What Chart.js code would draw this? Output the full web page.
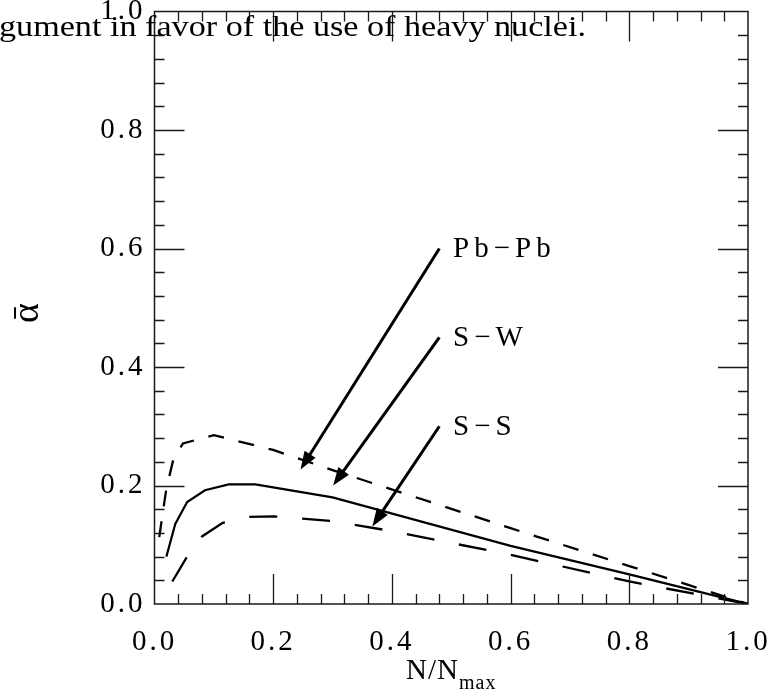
<!DOCTYPE html>
<html><head><meta charset="utf-8">
<script src="https://cdn.jsdelivr.net/npm/chart.js@4/dist/chart.umd.min.js"></script>
<style>html,body{margin:0;padding:0;background:#fff;overflow:hidden}</style>
</head><body>
<canvas id="c" width="770" height="694"></canvas>
<script>
// ---- data ----
const xTicks = [0, 0.2, 0.4, 0.6, 0.8, 1.0];
const yTicks = [0, 0.2, 0.4, 0.6, 0.8, 1.0];

const pbX = [0.008, 0.020, 0.032, 0.048, 0.10, 0.20, 0.30, 0.60, 0.80, 1.00];
const pbY = [0.113, 0.195, 0.245, 0.271, 0.285, 0.260, 0.226, 0.128, 0.064, 0.000];

const swX = [0.020, 0.035, 0.055, 0.085, 0.125, 0.170, 0.300, 0.600, 0.800, 1.000];
const swY = [0.080, 0.135, 0.172, 0.192, 0.202, 0.202, 0.180, 0.098, 0.050, 0.000];

const ssX = [0.030, 0.055, 0.080, 0.115, 0.160, 0.200, 0.300, 0.400, 0.600, 0.800, 1.000];
const ssY = [0.038, 0.080, 0.114, 0.137, 0.147, 0.148, 0.140, 0.123, 0.083, 0.038, 0.000];

const seriesNames = ['Pb\u2212Pb', 'S\u2212W', 'S\u2212S'];
const arrowFromX = [0.480, 0.480, 0.480];
const arrowFromY = [0.600, 0.450, 0.300];
const arrowToX   = [0.246, 0.301, 0.367];
const arrowToY   = [0.227, 0.200, 0.131];
const labelX = 0.503;

const headerText = 'gument in favor of the use of heavy nuclei.';
const xTitleMain = 'N/N';
const xTitleSub = 'max';
const yTitle = '\u1FB1';

// ---- chart ----
const FONT = "'Liberation Serif', 'DejaVu Serif', serif";
const pts = (xs, ys) => xs.map((x, i) => ({x: x, y: ys[i]}));

const decor = {
  id: 'decor',
  beforeDraw(chart) {
    chart.ctx.letterSpacing = '3px';
  },
  afterDraw(chart) {
    const ctx = chart.ctx, a = chart.chartArea;
    const xs = chart.scales.x, ys = chart.scales.y;
    ctx.save();
    ctx.letterSpacing = '0px';
    // frame
    ctx.strokeStyle = '#1a1a1a';
    ctx.lineWidth = 1.5;
    ctx.strokeRect(a.left, a.top, a.right - a.left, a.bottom - a.top);
    // ticks (inward on all four sides)
    ctx.lineWidth = 1.3;
    ctx.beginPath();
    for (let i = 1; i < 25; i++) {
      const v = i * 0.04;
      const len = (i % 5 === 0) ? 30 : 10;
      const px = Math.round(xs.getPixelForValue(v)) + 0.5;
      const py = Math.round(ys.getPixelForValue(v)) + 0.5;
      ctx.moveTo(px, a.bottom); ctx.lineTo(px, a.bottom - len);
      ctx.moveTo(px, a.top); ctx.lineTo(px, a.top + len);
      ctx.moveTo(a.left, py); ctx.lineTo(a.left + len, py);
      ctx.moveTo(a.right, py); ctx.lineTo(a.right - len, py);
    }
    ctx.stroke();

    // arrows
    ctx.strokeStyle = '#000';
    ctx.fillStyle = '#000';
    for (let k = 0; k < arrowFromX.length; k++) {
      const x0 = xs.getPixelForValue(arrowFromX[k]), y0 = ys.getPixelForValue(arrowFromY[k]);
      const x1 = xs.getPixelForValue(arrowToX[k]), y1 = ys.getPixelForValue(arrowToY[k]);
      const dx = x1 - x0, dy = y1 - y0, L = Math.hypot(dx, dy);
      const ux = dx / L, uy = dy / L;
      const hl = 18, hw = 6.5;
      const bx = x1 - ux * hl, by = y1 - uy * hl;
      ctx.lineWidth = 3;
      ctx.beginPath();
      ctx.moveTo(x0, y0); ctx.lineTo(bx + ux * 2, by + uy * 2);
      ctx.stroke();
      ctx.beginPath();
      ctx.moveTo(x1, y1);
      ctx.lineTo(bx - uy * hw, by + ux * hw);
      ctx.lineTo(bx + uy * hw, by - ux * hw);
      ctx.closePath();
      ctx.fill();
      // label
      ctx.font = "29px " + FONT;
      ctx.letterSpacing = '5px';
      ctx.textAlign = 'left';
      ctx.textBaseline = 'middle';
      ctx.fillText(seriesNames[k], xs.getPixelForValue(labelX), y0 + 1);
      ctx.letterSpacing = '0px';
    }

    // x axis title
    ctx.font = "29px " + FONT;
    ctx.letterSpacing = '1px';
    ctx.textBaseline = 'alphabetic';
    ctx.textAlign = 'left';
    const wMain = ctx.measureText(xTitleMain).width;
    ctx.font = "20px " + FONT;
    const wSub = ctx.measureText(xTitleSub).width;
    const cx = (a.left + a.right) / 2;
    let sx = cx - (wMain + wSub) / 2;
    ctx.font = "29px " + FONT;
    ctx.fillText(xTitleMain, sx, 679);
    ctx.font = "20px " + FONT;
    ctx.fillText(xTitleSub, sx + wMain, 689);

    // y axis title (rotated)
    ctx.save();
    ctx.translate(28, 313);
    ctx.rotate(-Math.PI / 2);
    ctx.font = "38px " + FONT;
    ctx.textAlign = 'center';
    ctx.textBaseline = 'middle';
    ctx.letterSpacing = '0px';
    ctx.fillText(yTitle, 0, 0);
    ctx.restore();

    // header text fragment from surrounding page
    ctx.font = "30px " + FONT;
    ctx.letterSpacing = '0px';
    ctx.textAlign = 'left';
    ctx.textBaseline = 'alphabetic';
    const w = ctx.measureText(headerText).width;
    ctx.save();
    ctx.translate(-1, 36);
    ctx.scale(587 / w, 1);
    ctx.fillText(headerText, 0, 0);
    ctx.restore();

    ctx.restore();
  }
};

new Chart(document.getElementById('c'), {
  type: 'line',
  data: {
    datasets: [
      {label: seriesNames[0], data: pts(pbX, pbY), borderColor: '#000', borderWidth: 2.3, borderDash: [16, 15], pointRadius: 0, tension: 0, fill: false},
      {label: seriesNames[1], data: pts(swX, swY), borderColor: '#000', borderWidth: 2.2, pointRadius: 0, tension: 0, fill: false},
      {label: seriesNames[2], data: pts(ssX, ssY), borderColor: '#000', borderWidth: 2.3, borderDash: [28, 25], pointRadius: 0, tension: 0, fill: false}
    ]
  },
  options: {
    responsive: false,
    animation: false,
    devicePixelRatio: 1,
    layout: {padding: {top: 11.5, right: 22, left: 0, bottom: 0}},
    plugins: {legend: {display: false}, tooltip: {enabled: false}, title: {display: false}},
    scales: {
      x: {
        type: 'linear', min: 0, max: 1,
        afterBuildTicks: s => { s.ticks = xTicks.map(v => ({value: v})); },
        afterFit: s => { s.height = 90; s.paddingLeft = 0; s.paddingRight = 0; },
        grid: {display: false, drawTicks: false, tickLength: 0},
        border: {display: false},
        ticks: {color: '#000', font: {family: FONT, size: 29}, padding: 21, maxRotation: 0, autoSkip: false,
                callback: v => Number(v).toFixed(1)}
      },
      y: {
        type: 'linear', min: 0, max: 1,
        afterBuildTicks: s => { s.ticks = yTicks.map(v => ({value: v})); },
        afterFit: s => { s.width = 154.5; s.paddingTop = 0; s.paddingBottom = 0; },
        grid: {display: false, drawTicks: false, tickLength: 0},
        border: {display: false},
        ticks: {color: '#000', font: {family: FONT, size: 29}, padding: 9, autoSkip: false,
                callback: v => Number(v).toFixed(1)}
      }
    }
  },
  plugins: [decor]
});
</script>
</body></html>
